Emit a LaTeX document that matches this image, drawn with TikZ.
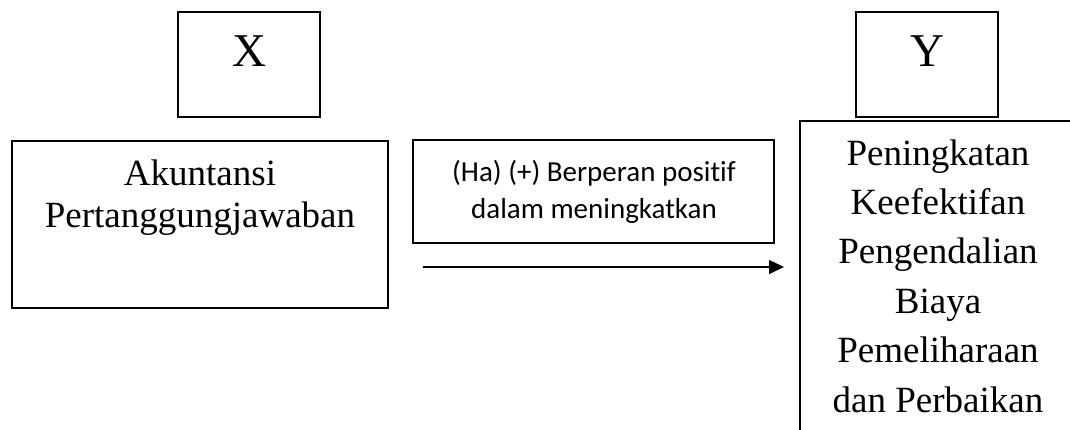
\documentclass[tikz,border=0pt]{standalone}
\usepackage{fontspec}
\setmainfont[Ligatures=NoCommon]{Liberation Serif}
\newfontfamily\calib[Ligatures=NoCommon]{Carlito}
\usetikzlibrary{arrows.meta}
\tikzset{
  box/.style={draw=black, line width=1.6pt, inner sep=0pt, rectangle},
  serifbig/.style={font=\fontsize{47}{56}\selectfont, inner sep=0pt, anchor=base},
  seriftext/.style={font=\fontsize{37}{42}\selectfont, inner sep=0pt, anchor=base, align=center},
  sanstext/.style={font=\calib\fontsize{29}{37}\selectfont, inner sep=0pt, anchor=base, align=center},
  arrowline/.style={line width=1.6pt, -{Triangle[length=15pt,width=14pt]}}
}
\begin{document}
\begin{tikzpicture}[x=1pt,y=-1pt]
\useasboundingbox (0,0) rectangle (1070,429);
\clip (0,0) rectangle (1070,429);
\fill[white] (0,0) rectangle (1070,429);
% X and Y boxes
\node[box, minimum width=142pt, minimum height=105pt] (xbox) at (249,64.5) {};
\node[serifbig] (xlab) at (249,66) {X};
\node[box, minimum width=142pt, minimum height=105pt] (ybox) at (927,64.5) {};
\node[serifbig] (ylab) at (927,66) {Y};
% Akuntansi box
\node[box, minimum width=376pt, minimum height=167pt] (abox) at (200,224.5) {};
\node[seriftext] (alab) at (200,227) {Akuntansi\\Pertanggungjawaban};
% middle label box
\node[box, minimum width=361pt, minimum height=103pt] (mbox) at (593.5,191.5) {};
\node[sanstext] (mlab) at (594,218) {(Ha) (+) Berperan positif\\dalam meningkatkan};
% right box (extends beyond picture)
\node[box, minimum width=276pt, minimum height=330pt] (rbox) at (938,286) {};
\node[seriftext, font=\fontsize{37}{49.4}\selectfont] (rlab) at (938,412)
  {Peningkatan\\Keefektifan\\Pengendalian\\Biaya\\Pemeliharaan\\dan Perbaikan};
% arrow
\coordinate (arrs) at (423,267);
\coordinate (arre) at (784,267);
\draw[arrowline] (arrs) -- (arre);
\end{tikzpicture}
\end{document}
